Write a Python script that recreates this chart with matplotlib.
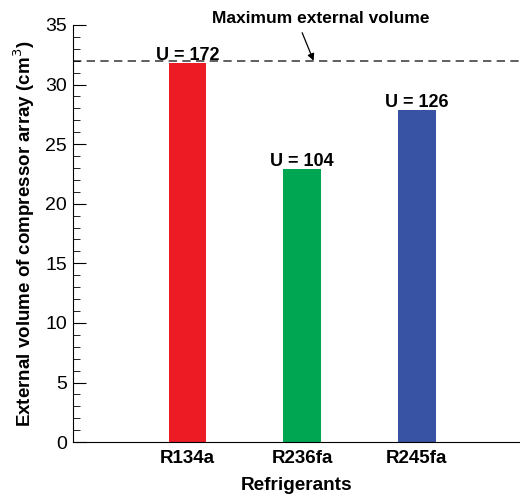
import matplotlib
matplotlib.use('Agg')
from matplotlib import pyplot as plt
from matplotlib import ticker
from matplotlib import transforms

plt.rcParams['font.family'] = ['Liberation Sans', 'DejaVu Sans']

refrigerants = ['R134a', 'R236fa', 'R245fa']
volumes = [31.8, 22.95, 27.85]
u_values = [172, 104, 126]
colors = ['#ED1C24', '#00A651', '#3953A4']
max_volume = 32.0

fig = plt.figure(figsize=(5.2, 4.99), dpi=100)
ax = fig.add_axes([0.140, 0.114, 0.860, 0.836])

x = [1, 2, 3]
ax.bar(x, volumes, width=0.33, color=colors, zorder=2)
ax.axhline(max_volume, color='#444444', lw=1.2, ls=(0, (5, 3.2)), zorder=1)

for xi, v, u in zip(x, volumes, u_values):
    ax.text(xi, v - 0.1, f'U = {u}', ha='center', va='bottom',
            fontsize=13, fontweight='bold', zorder=3)

ax.text(2.16, 35.5, 'Maximum external volume', ha='center', va='center',
        fontsize=12.5, fontweight='bold', clip_on=False)
ax.annotate('', xy=(2.1, max_volume), xytext=(2.0, 34.35),
            annotation_clip=False,
            arrowprops=dict(arrowstyle='-|>', color='black', lw=0.9,
                            shrinkA=0, shrinkB=0, mutation_scale=10))

ax.set_xlim(0, 3.9)
ax.set_ylim(0, 35)
ax.set_xticks(x)
ax.set_xticklabels(refrigerants, fontsize=13.5, fontweight='bold')
# labels in the source sit slightly staggered
for i, lab in enumerate(ax.get_xticklabels()):
    off = transforms.ScaledTranslation(0, -i * 2 / 100, fig.dpi_scale_trans)
    lab.set_transform(lab.get_transform() + off)
ax.yaxis.set_major_locator(ticker.MultipleLocator(5))
ax.yaxis.set_minor_locator(ticker.MultipleLocator(1))
ax.tick_params(axis='y', which='major', direction='in', length=9,
               labelsize=14, pad=4)
ax.tick_params(axis='y', which='minor', direction='in', length=5)
ax.tick_params(axis='x', length=0, pad=6)

for s in ['top', 'right']:
    ax.spines[s].set_visible(False)

ax.set_xlabel('Refrigerants', fontsize=13.7, fontweight='bold', labelpad=7)
ax.set_ylabel('External volume of compressor array (cm$^3$)', fontsize=13.5,
              fontweight='bold', labelpad=6)

fig.savefig('out.png', dpi=100)
